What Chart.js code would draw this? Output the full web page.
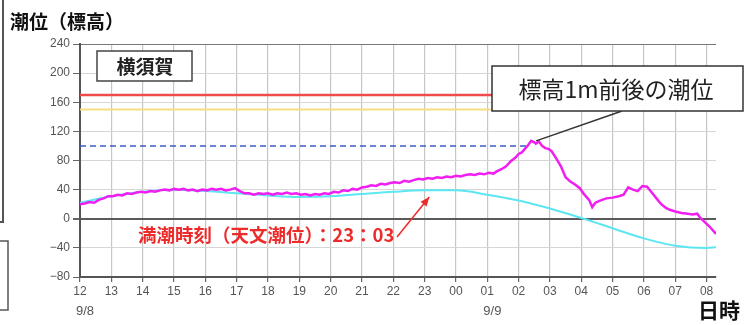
<!DOCTYPE html>
<html>
<head>
<meta charset="UTF-8">
<title>潮位（標高） 横須賀</title>
<script src="https://cdn.jsdelivr.net/npm/chart.js"></script>
<style>
  html, body { margin: 0; padding: 0; background: #fff; }
</style>
</head>
<body>
<canvas id="tideChart" width="755" height="325"></canvas>
<script>
// x values are hours counted from 9/8 12:00
const obsHours = [0, 0.15, 0.3, 0.45, 0.6, 0.75, 0.9, 1.05, 1.2, 1.35, 1.5, 1.65, 1.8, 1.95, 2.1,
  2.25, 2.4, 2.55, 2.7, 2.85, 3.0, 3.15, 3.3, 3.45, 3.6, 3.75, 3.9, 4.05, 4.2, 4.35, 4.5,
  4.65, 4.8, 4.95, 5.1, 5.25, 5.4, 5.55, 5.7, 5.85, 6.0, 6.15, 6.3, 6.45, 6.6, 6.75, 6.9,
  7.05, 7.2, 7.35, 7.5, 7.65, 7.8, 7.95, 8.1, 8.25, 8.4, 8.55, 8.7, 8.85, 9.0, 9.15, 9.3,
  9.45, 9.6, 9.75, 9.9, 10.05, 10.2, 10.35, 10.5, 10.65, 10.8, 10.95, 11.1, 11.25, 11.4,
  11.55, 11.7, 11.85, 12.0, 12.15, 12.3, 12.45, 12.6, 12.75, 12.9, 13.05, 13.2, 13.3,
  13.45, 13.6, 13.75, 13.9, 14.0, 14.1, 14.2, 14.3, 14.4, 14.5, 14.55, 14.65, 14.75,
  14.85, 14.95, 15.05, 15.2, 15.35, 15.5, 15.65, 15.8, 15.95, 16.1, 16.25, 16.35, 16.45, 16.6,
  16.8, 17.0, 17.2, 17.35, 17.5, 17.65, 17.8, 17.95, 18.1, 18.25, 18.4, 18.55, 18.7, 18.85,
  19.0, 19.2, 19.4, 19.55, 19.7, 19.8, 19.95, 20.1, 20.3];
const obsLevel = [20, 21, 23, 22, 26, 28, 31, 31, 33, 32, 35, 34, 36, 37, 36,
  38, 37, 39, 40, 39, 41, 40, 41, 39, 40, 38, 40, 39, 41, 40, 41,
  39, 40, 42, 38, 35, 35, 33, 35, 34, 35, 33, 35, 34, 36, 34, 35,
  33, 34, 32, 34, 33, 35, 34, 37, 36, 39, 38, 41, 40, 43, 44, 46,
  45, 48, 47, 49, 50, 49, 52, 51, 53, 55, 54, 56, 55, 57,
  56, 58, 57, 59, 58, 60, 61, 60, 62, 61, 63, 62, 65,
  68, 72, 79, 84, 89, 91, 96, 101, 107, 105, 103, 106, 100,
  97, 96, 93, 83, 72, 57, 51, 47, 42, 33, 26, 16, 22, 25,
  28, 29, 31, 33, 43, 40, 38, 45, 44, 36, 28, 20, 15, 12,
  10, 8, 7, 6, 7, 1, -5, -11, -21];

const astroHours = [0, 1, 2, 3, 4, 5, 6, 7, 8, 9, 10, 11, 12, 13, 14, 15, 16, 17, 18, 19, 20, 20.3];
const astroLevel = [22, 31, 37, 40, 38, 35, 32, 30, 31, 34, 37, 39, 39, 33, 25, 14, 1, -13, -27, -37, -40, -39];

const hourLabels = ['12', '13', '14', '15', '16', '17', '18', '19', '20', '21', '22', '23',
  '00', '01', '02', '03', '04', '05', '06', '07', '08'];
const dateHours = [0, 13];
const dateTexts = ['9/8', '9/9'];
const yTickValues = [-80, -40, 0, 40, 80, 120, 160, 200, 240];

const redLevel = 170;
const yellowLevel = 150;
const oneMetreLevel = 100;
const oneMetreEnd = 14.3;
const highTideHour = 11.15;

const toPoints = (xs, ys) => xs.map((x, i) => ({ x: x, y: ys[i] }));
const flatLine = (level, from, to) => [{ x: from, y: level }, { x: to, y: level }];

const numFont = '"Liberation Sans", Arial, sans-serif';
const jpFont = '"Noto Sans CJK JP", "Noto Sans", sans-serif';

const decor = {
  id: 'decor',
  afterDraw(chart) {
    const c = chart.ctx;
    const xs = chart.scales.x, ys = chart.scales.y;
    c.save();

    // edges of the neighbouring figure
    c.strokeStyle = '#555';
    c.lineWidth = 2;
    c.beginPath();
    c.moveTo(3, 0); c.lineTo(3, 222); c.lineTo(0, 222);
    c.stroke();
    c.lineWidth = 1.5;
    c.strokeRect(-2, 241, 10, 69);

    // title and axis name
    c.fillStyle = '#111';
    c.font = 'bold 19px ' + jpFont;
    c.textBaseline = 'middle';
    c.textAlign = 'left';
    c.fillText('潮位（標高）', 10, 22);
    c.font = 'bold 21px ' + jpFont;
    c.fillText('日時', 698, 310);

    // dates under hour ticks
    c.fillStyle = '#555';
    c.font = '13px ' + numFont;
    dateHours.forEach((h, i) => {
      c.fillText(dateTexts[i], xs.getPixelForValue(h) - 4, 311);
    });

    // station box
    c.fillStyle = '#fff';
    c.fillRect(97, 51, 95, 30);
    c.strokeStyle = '#444';
    c.lineWidth = 1.5;
    c.strokeRect(97, 51, 95, 30);
    c.fillStyle = '#222';
    c.font = 'bold 19px ' + jpFont;
    c.textAlign = 'center';
    c.fillText('横須賀', 145, 67);

    // callout for the 1 m water level
    const px = xs.getPixelForValue(14.4), py = ys.getPixelForValue(107);
    c.strokeStyle = '#333';
    c.lineWidth = 1.5;
    c.beginPath();
    c.moveTo(px + 5, py);
    c.lineTo(622, 111);
    c.stroke();
    c.fillStyle = '#fff';
    c.fillRect(492, 66, 251, 45);
    c.strokeStyle = '#333';
    c.strokeRect(492, 66, 251, 45);
    c.fillStyle = '#222';
    c.font = '23px ' + jpFont;
    c.fillText('標高1m前後の潮位', 616, 89);

    // high tide note with arrow
    const red = '#ee2b2b';
    c.fillStyle = red;
    c.font = 'bold 18.5px ' + jpFont;
    c.textAlign = 'left';
    c.fillText('満潮時刻（天文潮位）：23：03', 138, 235);
    const tx = xs.getPixelForValue(highTideHour), ty = ys.getPixelForValue(30);
    const sx = 397, sy = 237;
    c.strokeStyle = red;
    c.lineWidth = 1.5;
    c.beginPath();
    c.moveTo(sx, sy); c.lineTo(tx, ty);
    c.stroke();
    const ang = Math.atan2(ty - sy, tx - sx);
    c.beginPath();
    c.moveTo(tx, ty);
    c.lineTo(tx - 10 * Math.cos(ang - 0.4), ty - 10 * Math.sin(ang - 0.4));
    c.lineTo(tx - 10 * Math.cos(ang + 0.4), ty - 10 * Math.sin(ang + 0.4));
    c.closePath();
    c.fill();

    c.restore();
  }
};

new Chart(document.getElementById('tideChart'), {
  type: 'line',
  data: {
    datasets: [{
      label: '実測潮位',
      data: toPoints(obsHours, obsLevel),
      borderColor: '#f01ef0',
      borderWidth: 2.5,
      pointRadius: 0,
      tension: 0
    }, {
      label: '天文潮位',
      data: toPoints(astroHours, astroLevel),
      borderColor: '#5ce6f2',
      borderWidth: 2,
      pointRadius: 0,
      cubicInterpolationMode: 'monotone'
    }, {
      label: '標高1m',
      data: flatLine(oneMetreLevel, 0, oneMetreEnd),
      borderColor: '#3c5ac8',
      borderWidth: 1.5,
      borderDash: [6, 4],
      pointRadius: 0
    }, {
      label: 'yellow',
      data: flatLine(yellowLevel, 0, 20.3),
      borderColor: '#f6dc82',
      borderWidth: 2,
      pointRadius: 0
    }, {
      label: 'red',
      data: flatLine(redLevel, 0, 20.3),
      borderColor: '#ef4b4b',
      borderWidth: 2.5,
      pointRadius: 0
    }]
  },
  options: {
    responsive: false,
    animation: false,
    layout: { padding: { top: 44, right: 39, left: 0, bottom: 0 } },
    plugins: {
      legend: { display: false },
      tooltip: { enabled: false }
    },
    scales: {
      x: {
        type: 'linear',
        min: 0,
        max: 20.3,
        afterFit: s => { s.height = 48; },
        ticks: {
          stepSize: 1,
          includeBounds: false,
          autoSkip: false,
          maxRotation: 0,
          padding: 2,
          color: '#555',
          font: { family: numFont, size: 12 },
          callback: v => hourLabels[Math.round(v)]
        },
        grid: { color: '#c6c6c6', lineWidth: 1.2, tickLength: 5, tickColor: '#666' },
        border: { color: '#555', width: 2 }
      },
      y: {
        min: -80,
        max: 240,
        afterFit: s => { s.width = 80; },
        ticks: {
          stepSize: 20,
          padding: 3,
          color: '#555',
          font: { family: numFont, size: 12 },
          callback: v => yTickValues.includes(v) ? String(v).replace('-', '−') : ''
        },
        grid: {
          color: ctx => ctx.tick.value === 0 ? '#5a5a5a' : (ctx.tick.value === 240 ? '#777' : '#d6d6d6'),
          lineWidth: ctx => ctx.tick.value === 0 ? 2 : 1,
          tickLength: 7,
          tickColor: ctx => yTickValues.includes(ctx.tick.value) ? '#666' : 'rgba(0,0,0,0)'
        },
        border: { color: '#555', width: 2 }
      }
    }
  },
  plugins: [decor]
});
</script>
</body>
</html>
